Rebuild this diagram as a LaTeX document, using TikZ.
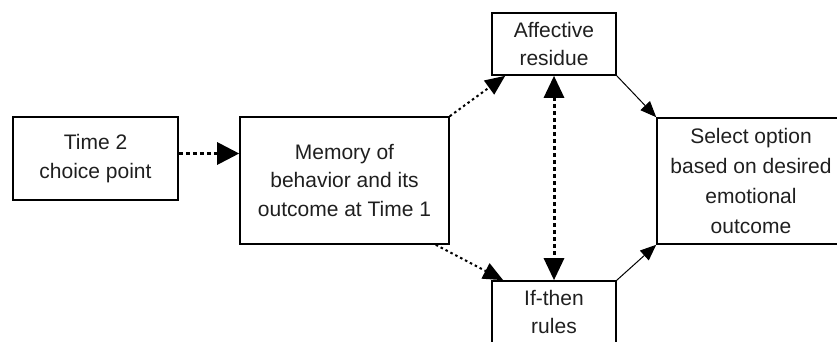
\documentclass[tikz,border=0pt]{standalone}
\usepackage{fontspec}
\setmainfont{Liberation Sans}
\usetikzlibrary{arrows.meta,calc}
\begin{document}
\begin{tikzpicture}[x=1pt,y=1pt,
  box/.style={draw, line width=1.6pt, align=center, inner sep=0pt,
    text=black!88, font=\fontsize{21}{28.5}\selectfont},
  heavydots/.style={line width=3pt, dash pattern=on 4pt off 3pt,
    -{Triangle[length=22pt,width=22pt]}},
  lightdots/.style={line width=2pt, dash pattern=on 2.5pt off 3pt,
    -{Triangle[length=20pt,width=17pt]}},
  plain/.style={line width=1pt, -{Triangle[length=16pt,width=13pt]}}
]
\useasboundingbox (0,0) rectangle (837,341);
\clip (0,0) rectangle (837,341);

% boxes
\node[box, minimum width=165, minimum height=83] (choice) at (95.5,182.5)
  {Time 2\\choice point};
\node[box, minimum width=209, minimum height=127] (memory) at (344.5,160.5)
  {Memory of\\behavior and its\\outcome at Time 1};
\node[box, minimum width=124, minimum height=62] (affect) at (554,297)
  {Affective\\residue};
\node[box, minimum width=124, minimum height=62] (rules) at (554,29)
  {If-then\\rules};
\node[box, minimum width=188, minimum height=126, font=\fontsize{21}{30}\selectfont] (select) at (751,160)
  {Select option\\based on desired\\emotional\\outcome};

% connectors
\coordinate (cue) at ($(choice.east)+(0,5)$);
\draw[heavydots] (cue) -- (cue -| memory.west);
\draw[lightdots] (memory.north east) -- ($(affect.south west)+(14,0)$);
\draw[lightdots] ($(memory.south east)+(-14,0)$) -- ($(rules.north west)+(12,0)$);
\draw[line width=3pt, dash pattern=on 4pt off 3pt,
  {Triangle[length=22pt,width=20pt]}-{Triangle[length=22pt,width=20pt]}]
  (affect.south) -- (rules.north);
\draw[plain] (affect.south east) -- (select.north west);
\draw[plain] (rules.north east) -- (select.south west);
\end{tikzpicture}
\end{document}
